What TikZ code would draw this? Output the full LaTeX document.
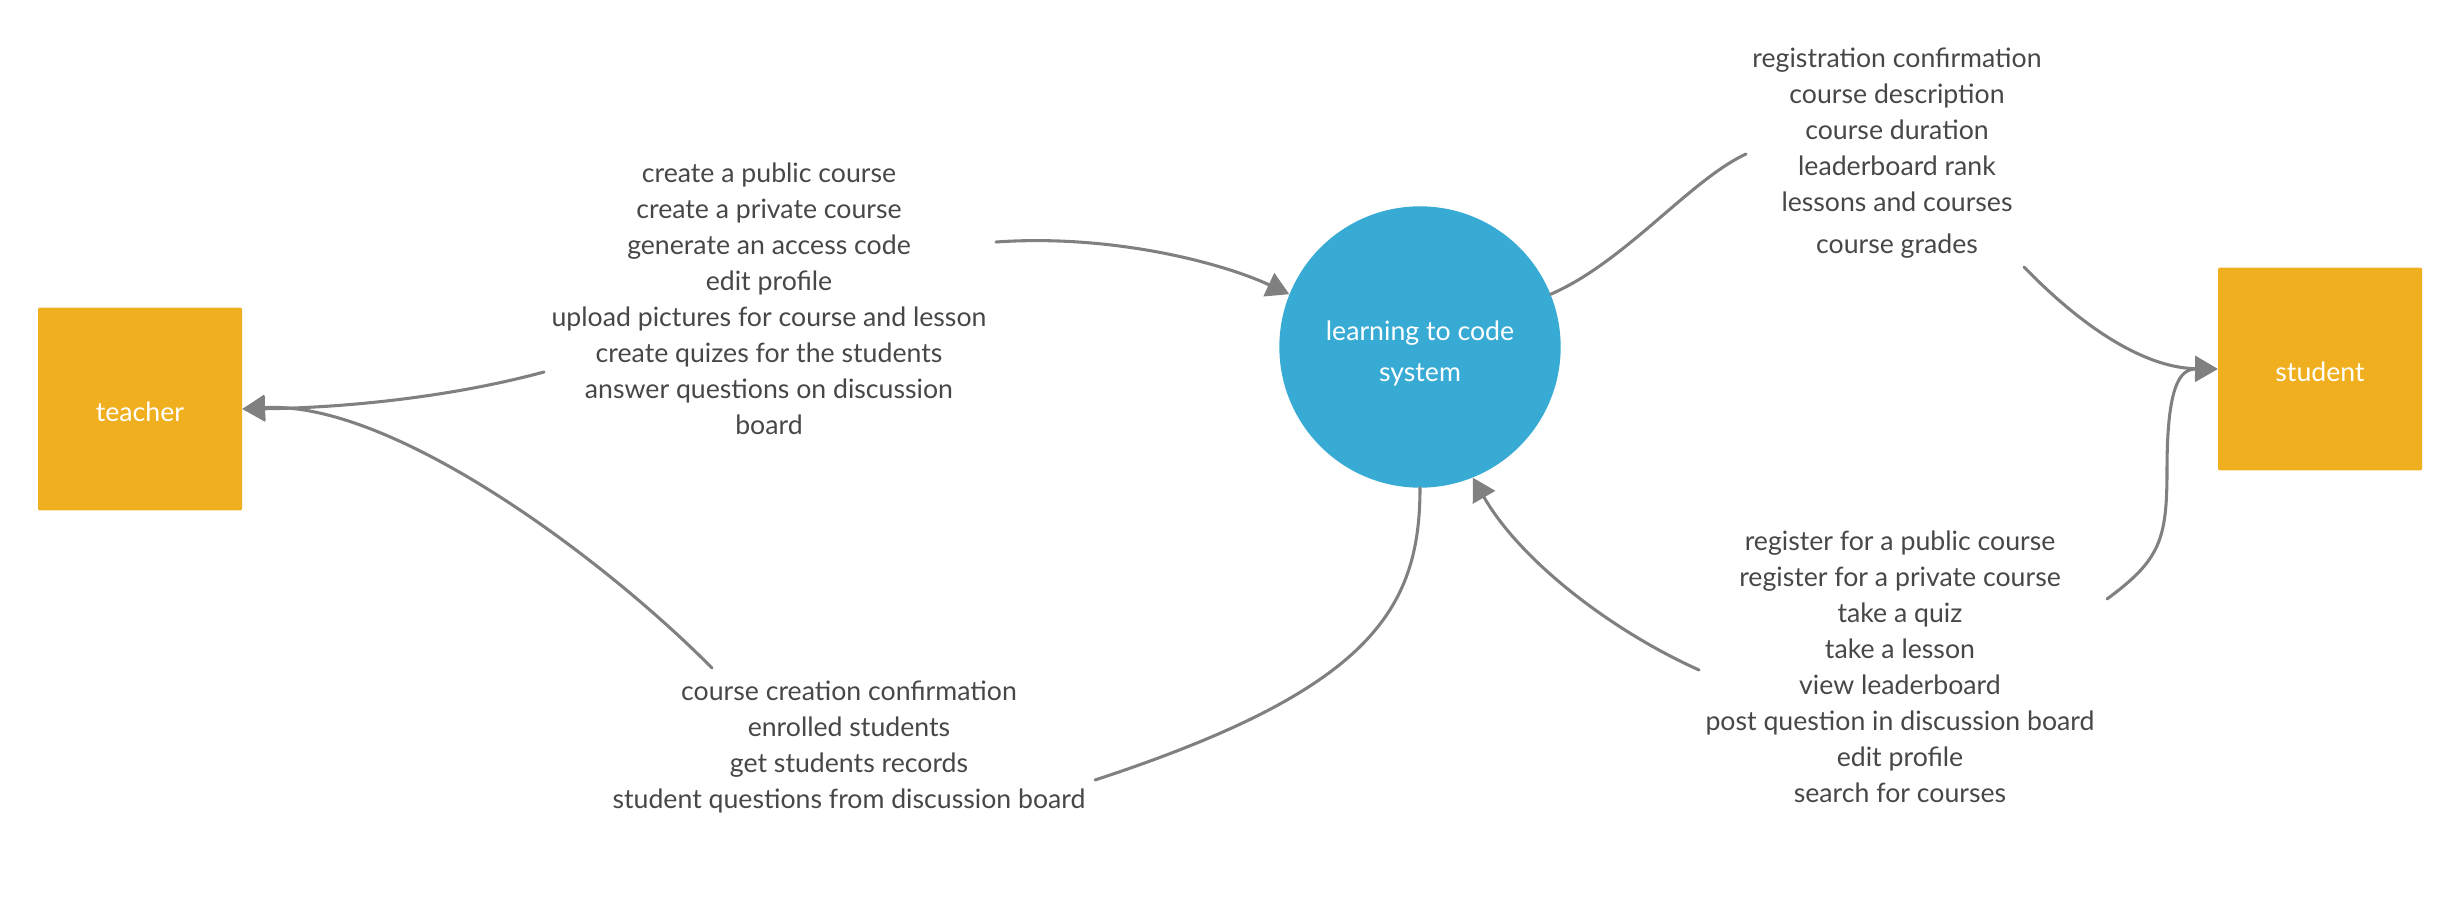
\documentclass[tikz,border=0pt]{standalone}
\usepackage{fontspec}
\setmainfont{Lato}
\usetikzlibrary{arrows.meta}
\definecolor{boxorange}{HTML}{F0AF1F}
\definecolor{sysblue}{HTML}{38ABD5}
\definecolor{linegray}{HTML}{808080}
\definecolor{textgray}{HTML}{474747}
\begin{document}
\begin{tikzpicture}[
    x=0.75pt, y=-0.75pt,
    entity/.style={fill=boxorange, rounded corners=1pt, text=white, font=\fontsize{20}{27}\selectfont,
        minimum width=153pt, minimum height=152pt, inner sep=0pt, text height=19pt, text depth=0pt},
    process/.style={circle, fill=sysblue, text=white, align=center, minimum size=211pt, inner sep=0pt,
        font=\fontsize{20}{31}\selectfont},
    flowtext/.style={align=center, text=textgray, inner sep=0pt, font=\fontsize{20}{27}\selectfont},
    flow/.style={draw=linegray, line width=2.3pt, line cap=round},
    tip/.style={-{Triangle[length=17pt,width=19pt]}}
]
\useasboundingbox (0,0) rectangle (2460,924);

% external entities and the system
\node[entity] (teacher) at (140,409) {teacher};
\node[entity] (student) at (2320,369) {student};
\node[process] (sys) at (1420,347) {\rule{0pt}{24pt}learning to code\\system};

% data flow labels
\node[flowtext] (tflows) at (769,299) {create a public course\\create a private course\\generate an access code\\edit profile\\upload pictures for course and lesson\\create quizes for the students\\answer questions on discussion\\board};
\node[flowtext] (tback) at (849,747) {course creation confirmation\\enrolled students\\get students records\\student questions from discussion board};
\node[flowtext] (sback) at (1897,153) {registration confirmation\\course description\\course duration\\leaderboard rank\\lessons and courses\\[4pt]course grades};
\node[flowtext] (sreq) at (1900,667) {register for a public course\\register for a private course\\take a quiz\\take a lesson\\view leaderboard\\post question in discussion board\\edit profile\\search for courses};

% free ends of the connectors beside the labels
\coordinate (t1) at (996,242);
\coordinate (t2) at (544,372);
\coordinate (b1) at (712,668);
\coordinate (b2) at (1095,780);
\coordinate (s1) at (1746,154);
\coordinate (s2) at (2024,267);
\coordinate (r1) at (2107,599);
\coordinate (r2) at (1699,670);

% teacher side
\draw[flow, tip] (t1) .. controls (1110,234) and (1220,262) .. (sys.158);
\draw[flow, tip] (t2) .. controls (440,400) and (330,408) .. (teacher.east);
\draw[flow, tip] (b1) .. controls (600,555) and (390,400) .. (teacher.east);
\draw[flow] (sys.south) .. controls (1420,610) and (1370,690) .. (b2);

% student side
\draw[flow] (sys.22) .. controls (1625,262) and (1690,180) .. (s1);
\draw[flow, tip] (s2) .. controls (2090,335) and (2150,368) .. (student.west);
\draw[flow, tip] (r1) .. controls (2160,560) and (2167,540) .. (2167,470)
    .. controls (2167,385) and (2180,369) .. (student.west);
\draw[flow, tip] (r2) .. controls (1610,630) and (1520,560) .. (sys.292);

\end{tikzpicture}
\end{document}
